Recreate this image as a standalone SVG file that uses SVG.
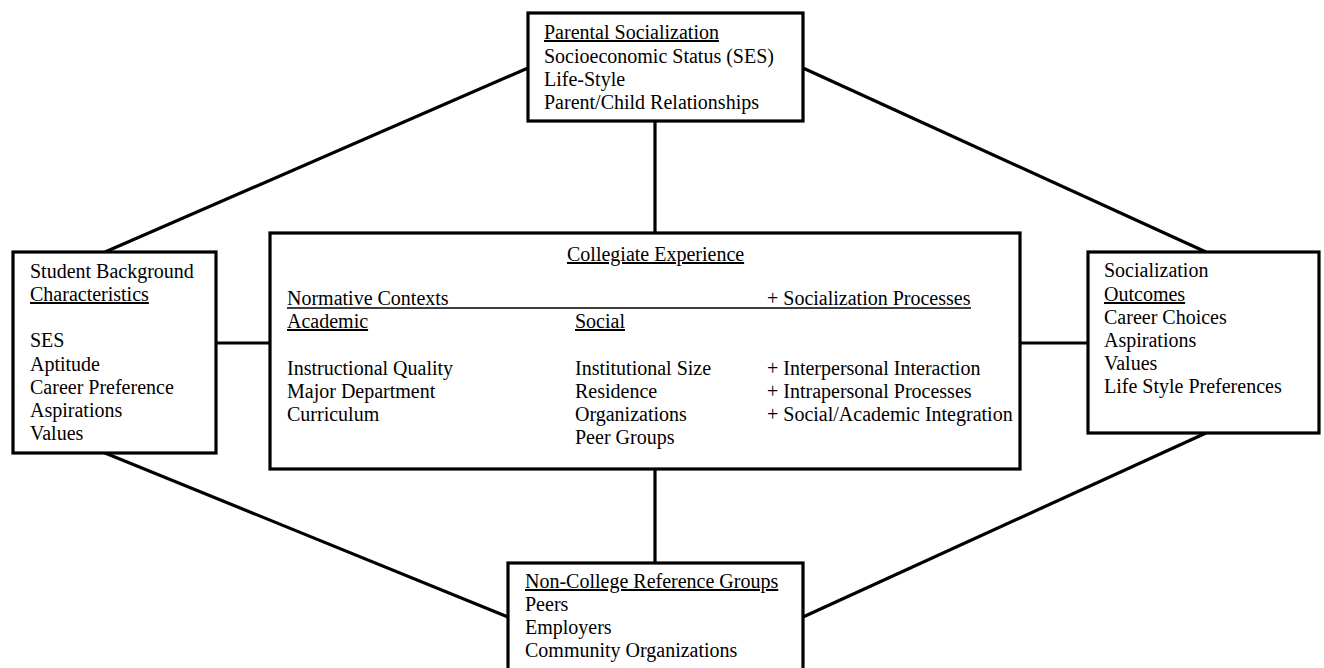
<svg xmlns="http://www.w3.org/2000/svg" width="1324" height="668" viewBox="0 0 1324 668">
<style>
.box{fill:#fff;stroke:#000;stroke-width:3.2}
.con{stroke:#000;stroke-width:3.2;fill:none}
text{font-family:"Liberation Serif","Times New Roman",serif;font-size:20px;fill:#000}
.u{text-decoration:underline}
</style>
<rect width="1324" height="668" fill="#fff"/>
<g id="connectors">
<line class="con" x1="528" y1="68" x2="105" y2="252"/>
<line class="con" x1="803" y1="68" x2="1206" y2="252"/>
<line class="con" x1="105" y1="453" x2="508" y2="617"/>
<line class="con" x1="1206" y1="433" x2="803" y2="617"/>
<line class="con" x1="655" y1="121" x2="655" y2="233"/>
<line class="con" x1="655" y1="469" x2="655" y2="563"/>
<line class="con" x1="216" y1="343" x2="270" y2="343"/>
<line class="con" x1="1020" y1="343" x2="1088" y2="343"/>
</g>
<g id="parental">
<rect class="box" x="528" y="13" width="275" height="108"/>
<text x="544" y="39" class="u">Parental Socialization</text>
<text x="544" y="63">Socioeconomic Status (SES)</text>
<text x="544" y="86">Life-Style</text>
<text x="544" y="109">Parent/Child Relationships</text>
</g>
<g id="student">
<rect class="box" x="13" y="252" width="203" height="201"/>
<text x="30" y="278">Student Background</text>
<text x="30" y="301" class="u">Characteristics</text>
<text x="30" y="347">SES</text>
<text x="30" y="371">Aptitude</text>
<text x="30" y="394">Career Preference</text>
<text x="30" y="417">Aspirations</text>
<text x="30" y="440">Values</text>
</g>
<g id="collegiate">
<rect class="box" x="270" y="233" width="750" height="236"/>
<text x="567" y="261" class="u">Collegiate Experience</text>
<text x="287" y="305">Normative Contexts</text>
<text x="767" y="305">+ Socialization Processes</text>
<line x1="287" y1="308" x2="971" y2="308" stroke="#000" stroke-width="1.3"/>
<text x="287" y="328" class="u">Academic</text>
<text x="575" y="328" class="u">Social</text>
<text x="287" y="375">Instructional Quality</text>
<text x="287" y="398">Major Department</text>
<text x="287" y="421">Curriculum</text>
<text x="575" y="375">Institutional Size</text>
<text x="575" y="398">Residence</text>
<text x="575" y="421">Organizations</text>
<text x="575" y="444">Peer Groups</text>
<text x="767" y="375">+ Interpersonal Interaction</text>
<text x="767" y="398">+ Intrapersonal Processes</text>
<text x="767" y="421">+ Social/Academic Integration</text>
</g>
<g id="outcomes">
<rect class="box" x="1088" y="252" width="231" height="181"/>
<text x="1104" y="277">Socialization</text>
<text x="1104" y="301" class="u">Outcomes</text>
<text x="1104" y="324">Career Choices</text>
<text x="1104" y="347">Aspirations</text>
<text x="1104" y="370">Values</text>
<text x="1104" y="393">Life Style Preferences</text>
</g>
<g id="noncollege">
<rect class="box" x="508" y="563" width="295" height="120"/>
<text x="525" y="588" class="u">Non-College Reference Groups</text>
<text x="525" y="611">Peers</text>
<text x="525" y="634">Employers</text>
<text x="525" y="657">Community Organizations</text>
</g>
</svg>
